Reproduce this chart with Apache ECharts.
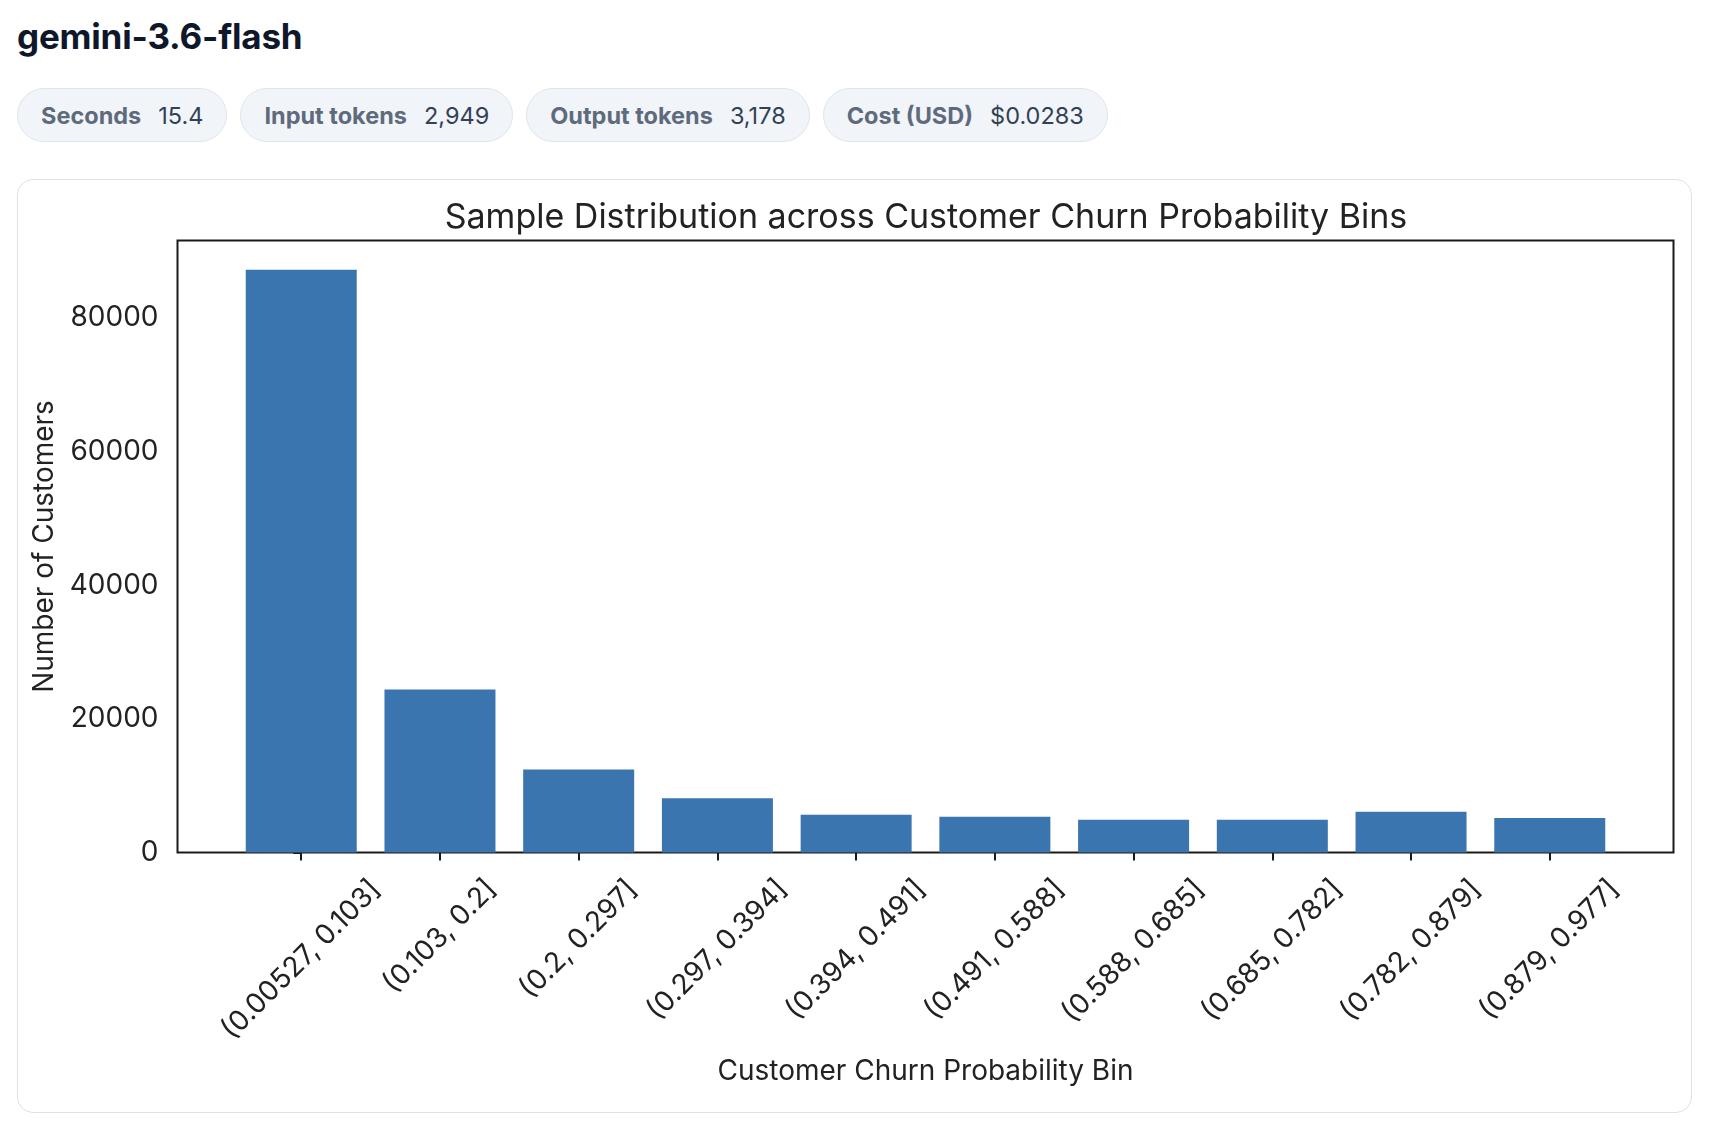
<!DOCTYPE html>
<html>
<head>
<meta charset="utf-8">
<script src="https://cdn.jsdelivr.net/npm/echarts@6/dist/echarts.min.js"></script>
<style>
  html,body{margin:0;padding:0;background:#fff;width:1714px;height:1126px;overflow:hidden;font-family:Inter,"Liberation Sans",sans-serif;}
  .head{position:absolute;left:17px;top:15px;font-size:35px;font-weight:700;color:#0f172a;letter-spacing:-0.2px;}
  .pills{position:absolute;left:17px;top:88px;display:flex;gap:13px;}
  .pill{height:54px;box-sizing:border-box;border:1.5px solid #dfe5ee;background:#f1f5f9;border-radius:28px;padding:0 23px;display:flex;align-items:center;font-size:23.5px;}
  .pill b{color:#5f6b7d;font-weight:700;margin-right:17px;}
  .pill span{color:#334155;}
  .card{position:absolute;left:17px;top:179px;width:1675px;height:934px;box-sizing:border-box;border:1.5px solid #dde3ea;border-radius:16px;background:#fff;}
  #main{width:100%;height:100%;}
</style>
</head>
<body>
<div class="head">gemini-3.6-flash</div>
<div class="pills">
  <div class="pill"><b>Seconds</b><span>15.4</span></div>
  <div class="pill"><b>Input tokens</b><span>2,949</span></div>
  <div class="pill"><b>Output tokens</b><span>3,178</span></div>
  <div class="pill"><b>Cost (USD)</b><span>$0.0283</span></div>
</div>
<div class="card"><div id="main"></div></div>
<script>
// 分箱标签和客户数量
var binLabels = ['(0.00527, 0.103]', '(0.103, 0.2]', '(0.2, 0.297]', '(0.297, 0.394]', '(0.394, 0.491]',
                 '(0.491, 0.588]', '(0.588, 0.685]', '(0.685, 0.782]', '(0.782, 0.879]', '(0.879, 0.977]'];
var binPositions = [0, 1, 2, 3, 4, 5, 6, 7, 8, 9];
var customerCounts = [87200, 24400, 12400, 8100, 5650, 5350, 4900, 4900, 6100, 5150];
var yTicks = [0, 20000, 40000, 60000, 80000];

var chartFont = 'Inter';
var tickFontSize = 28;

// 斜着的标签：中心对齐到刻度，按文字长度往下挪
var ctx = document.createElement('canvas').getContext('2d');
ctx.font = tickFontSize + 'px ' + chartFont;
var rich = {};
for (var i = 0; i < binLabels.length; i++) {
  var w = ctx.measureText(binLabels[i]).width;
  var p = Math.round((w + 30) / 2);
  rich['l' + i] = {
    fontSize: tickFontSize,
    fontFamily: chartFont,
    color: '#222',
    padding: [p, p, 0, 0]
  };
}

var myChart = echarts.init(document.getElementById('main'));

var options = {
  animation: false,
  title: {
    text: 'Sample Distribution across Customer Churn Probability Bins',
    left: 903,
    top: 16,
    textAlign: 'center',
    textStyle: {fontSize: 34, fontWeight: 'normal', color: '#222', fontFamily: chartFont}
  },
  grid: {
    left: 159.5,
    top: 60.5,
    width: 1496,
    height: 612,
    show: true,
    borderColor: '#1a1a1a',
    borderWidth: 2,
    backgroundColor: 'transparent'
  },
  xAxis: {
    type: 'value',
    min: -0.892,
    max: 9.892,
    name: 'Customer Churn Probability Bin',
    nameLocation: 'middle',
    nameGap: 205,
    nameTextStyle: {fontSize: 28, color: '#222', fontFamily: chartFont},
    axisLine: {show: false},
    splitLine: {show: false},
    axisTick: {
      show: true,
      length: 8,
      customValues: binPositions,
      lineStyle: {color: '#1a1a1a', width: 2}
    },
    axisLabel: {
      show: true,
      customValues: binPositions,
      rotate: 45,
      align: 'center',
      verticalAlign: 'middle',
      margin: 22,
      formatter: function (val) {
        var k = Math.round(val);
        return '{l' + k + '|' + binLabels[k] + '}';
      },
      rich: rich
    }
  },
  yAxis: {
    type: 'value',
    min: 0,
    max: 91560,
    name: 'Number of Customers',
    nameLocation: 'middle',
    nameGap: 92,
    nameTextStyle: {fontSize: 28, color: '#222', fontFamily: chartFont},
    axisLine: {show: false},
    splitLine: {show: false},
    axisTick: {
      show: true,
      length: 8,
      customValues: yTicks,
      lineStyle: {color: '#1a1a1a', width: 2}
    },
    axisLabel: {
      customValues: yTicks,
      margin: 19,
      fontSize: tickFontSize,
      color: '#222',
      fontFamily: chartFont,
      formatter: function (val) { return String(val); }
    }
  },
  series: [{
    type: 'bar',
    barWidth: 111,
    itemStyle: {color: '#3b75af'},
    data: binPositions.map(function (p, i) { return [p, customerCounts[i]]; })
  }]
};

myChart.setOption(options);
</script>
</body>
</html>
